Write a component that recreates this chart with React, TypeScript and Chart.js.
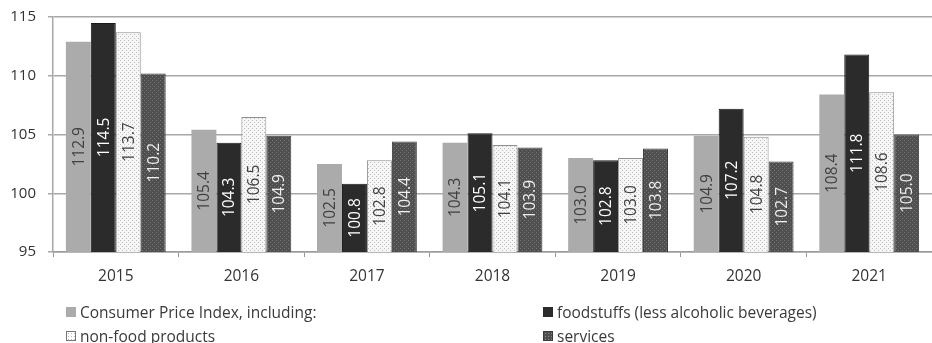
import React, { useEffect, useRef } from "react";
import { Chart, registerables } from "chart.js";

Chart.register(...registerables);

const years = ["2015", "2016", "2017", "2018", "2019", "2020", "2021"];
const cpi = [112.9, 105.4, 102.5, 104.3, 103.0, 104.9, 108.4];
const food = [114.5, 104.3, 100.8, 105.1, 102.8, 107.2, 111.8];
const nonFood = [113.7, 106.5, 102.8, 104.1, 103.0, 104.8, 108.6];
const services = [110.2, 104.9, 104.4, 103.9, 103.8, 102.7, 105.0];
const seriesNames = [
  "Consumer Price Index, including:",
  "foodstuffs (less alcoholic beverages)",
  "non-food products",
  "services",
];
const yMin = 95;
const yMax = 115;
const yStep = 5;

const FONT = "'Open Sans', 'Noto Sans', sans-serif";
const labelColors = ["#404040", "#ffffff", "#404040", "#eeeeee"];

function makePattern(bg: string, dot: string): CanvasPattern | string {
  const c = document.createElement("canvas");
  c.width = 4;
  c.height = 4;
  const g = c.getContext("2d");
  if (!g) return bg;
  g.fillStyle = bg;
  g.fillRect(0, 0, 4, 4);
  g.fillStyle = dot;
  g.fillRect(0, 0, 1, 1);
  g.fillRect(2, 2, 1, 1);
  const p = g.createPattern(c, "repeat");
  return p || bg;
}

const valueLabels = {
  id: "valueLabels",
  afterDraw(chart: any) {
    const ctx: CanvasRenderingContext2D = chart.ctx;
    const yScale = chart.scales.y;
    const basePx = yScale.getPixelForValue(yMin);
    ctx.save();
    ctx.font = "15.5px \"Open Sans\", sans-serif";
    ctx.textAlign = "center";
    ctx.textBaseline = "middle";
    chart.data.datasets.forEach((ds: any, di: number) => {
      const meta = chart.getDatasetMeta(di);
      meta.data.forEach((bar: any, i: number) => {
        const v = Number(ds.data[i]);
        const top = yScale.getPixelForValue(v);
        const cy = (top + basePx) / 2;
        const cx = bar.x;
        ctx.save();
        ctx.translate(cx, cy);
        ctx.rotate(-Math.PI / 2);
        ctx.fillStyle = labelColors[di];
        ctx.fillText(v.toFixed(1), 0, 1);
        ctx.restore();
      });
    });
    ctx.restore();
  },
};

export default function App() {
  const ref = useRef<HTMLCanvasElement | null>(null);

  useEffect(() => {
    if (!ref.current) return;
    const nonFoodPat = makePattern("#f6f6f6", "#bdbdbd");
    const servPat = makePattern("#4f4f4f", "#767676");
    const chart = new Chart(ref.current, {
      type: "bar",
      data: {
        labels: years,
        datasets: [
          {
            label: seriesNames[0],
            data: cpi,
            backgroundColor: "#ababab",
            borderColor: "#ababab",
            borderWidth: 0,
          },
          {
            label: seriesNames[1],
            data: food,
            backgroundColor: "#2b2b2b",
            borderColor: "#1a1a1a",
            borderWidth: 1,
          },
          {
            label: seriesNames[2],
            data: nonFood,
            backgroundColor: nonFoodPat as any,
            borderColor: "#8f8f8f",
            borderWidth: 1,
          },
          {
            label: seriesNames[3],
            data: services,
            backgroundColor: servPat as any,
            borderColor: "#3a3a3a",
            borderWidth: 1,
          },
        ],
      },
      options: {
        animation: false,
        responsive: false,
        maintainAspectRatio: false,
        layout: { padding: { top: 17, right: 0, left: 0, bottom: 0 } },
        datasets: {
          bar: { categoryPercentage: 0.795, barPercentage: 1.0 },
        },
        plugins: {
          legend: { display: false },
          tooltip: { enabled: false },
        },
        scales: {
          x: {
            offset: true,
            grid: {
              display: true,
              offset: true,
              drawOnChartArea: false,
              drawTicks: true,
              tickLength: 5,
              color: "#9a9a9a",
            },
            border: { display: true, color: "#9a9a9a", width: 1.5 },
            ticks: {
              color: "#333333",
              padding: 10,
              font: { family: FONT, size: 15.5 },
            },
            afterFit(scale: any) {
              scale.height = 91;
            },
          },
          y: {
            min: yMin,
            max: yMax,
            ticks: {
              stepSize: yStep,
              color: "#333333",
              padding: 12,
              font: { family: FONT, size: 15 },
            },
            grid: {
              color: "#a8a8a8",
              lineWidth: 1.5,
              tickLength: 5,
              drawTicks: true,
            },
            border: { display: true, color: "#a8a8a8", width: 1.5 },
            afterFit(scale: any) {
              scale.width = 53;
              scale.paddingTop = 0;
              scale.paddingBottom = 0;
            },
          },
        },
      },
      plugins: [valueLabels],
    });
    return () => chart.destroy();
  }, []);

  const legendItem = (i: number, swatch: React.CSSProperties) => (
    <div style={{ display: "flex", alignItems: "center", whiteSpace: "nowrap" }}>
      <span
        style={{
          display: "inline-block",
          width: 10,
          height: 10,
          marginRight: 4,
          boxSizing: "border-box",
          ...swatch,
        }}
      />
      <span>{seriesNames[i]}</span>
    </div>
  );

  const dotBg = (bg: string, dot: string): React.CSSProperties => ({
    backgroundColor: bg,
    backgroundImage: `radial-gradient(${dot} 30%, transparent 31%)`,
    backgroundSize: "3px 3px",
  });

  const legendCol: React.CSSProperties = {
    position: "absolute",
    top: 300,
    fontFamily: FONT,
    fontSize: 15.5,
    lineHeight: "24px",
    color: "#3a3a3a",
  };

  return (
    <div
      style={{
        position: "fixed",
        left: 0,
        top: 0,
        width: 932,
        height: 343,
        background: "#ffffff",
        overflow: "hidden",
      }}
    >
      <canvas ref={ref} width={932} height={343} style={{ display: "block" }} />
      <div style={{ ...legendCol, left: 66 }}>
        {legendItem(0, { background: "#ababab" })}
        {legendItem(2, { ...dotBg("#ffffff", "#bbbbbb"), border: "1px solid #777" })}
      </div>
      <div style={{ ...legendCol, left: 543 }}>
        {legendItem(1, { background: "#2b2b2b" })}
        {legendItem(3, { ...dotBg("#4f4f4f", "#8a8a8a"), border: "1px solid #3a3a3a" })}
      </div>
    </div>
  );
}
